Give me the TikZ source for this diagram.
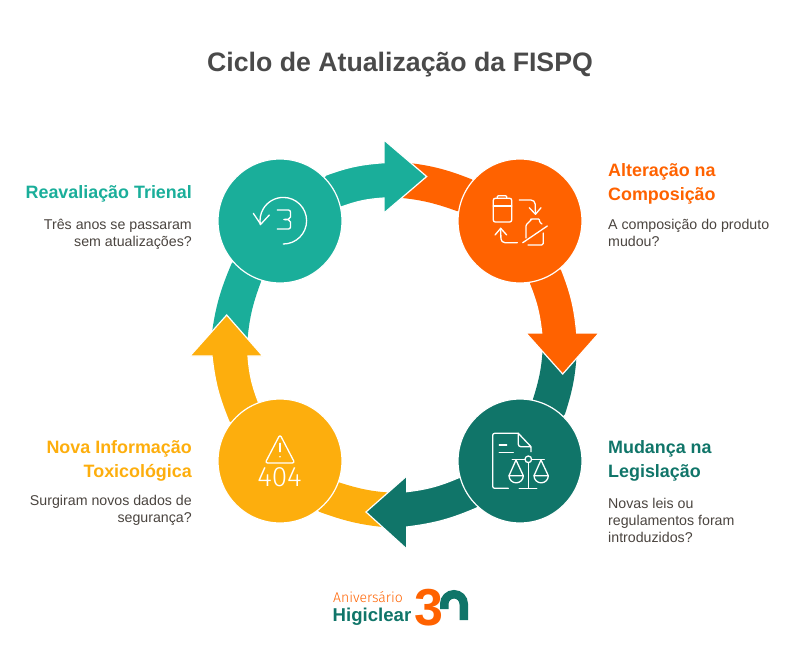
\documentclass[tikz,border=0pt]{standalone}
\usepackage{fontspec}
\setmainfont{Liberation Sans}
\newfontfamily\lightfont{Fira Sans Light}
\usepackage{xcolor}
\usetikzlibrary{positioning,arrows.meta}
\definecolor{tealc}{HTML}{1AAE9A}
\definecolor{orangec}{HTML}{FF6200}
\definecolor{darkc}{HTML}{107569}
\definecolor{yellowc}{HTML}{FDAE0D}
\definecolor{titlec}{HTML}{4A4A4A}
\definecolor{bodyc}{HTML}{4A443F}

\begin{document}
\begin{tikzpicture}[x=1pt,y=-1pt]
  \tikzstyle{stage}=[circle,draw=white,line width=1.2pt,minimum size=124pt,inner sep=0pt]
  \tikzstyle{band}=[draw=white,line width=1.2pt,line join=miter]
  \tikzstyle{icon}=[draw=white,line width=1.3pt,line cap=round,line join=round]
  \tikzstyle{head}=[font=\fontsize{17.9}{24}\selectfont\bfseries,inner sep=0pt]
  \tikzstyle{body}=[font=\fontsize{14.2}{17}\selectfont,text=bodyc,inner sep=0pt]

  \useasboundingbox (0,0) rectangle (800,654);

  \coordinate (ct) at (280,221);
  \coordinate (co) at (520,221);
  \coordinate (cd) at (520,461);
  \coordinate (cy) at (280,461);

  % tails
  \fill[tealc] (ct) -- (231.7,263.3) to[bend right=8] (211,340) -- (247,345) to[bend left=8] (261,281.7) -- cycle;
  \fill[orangec] (co) -- (471.7,179.3) to[bend right=8] (400,162) -- (390,197) to[bend left=8] (456.7,211) -- cycle;
  \fill[darkc] (cd) -- (565,414) to[bend right=8] (577,345) -- (543,340) to[bend left=8] (533,399) -- cycle;
  \fill[yellowc] (cy) -- (340,482.7) to[bend right=8] (400,493) -- (395,528) to[bend left=8] (319,511.7) -- cycle;

  % arrows
  \path[band,fill=tealc] (ct) -- (326,175) to[bend left=8] (384,162.7) -- (384,140) -- (426.7,176.5) -- (384,213) -- (384,198) to[bend right=8] (342,206.7) -- cycle;
  \path[band,fill=orangec] (co) -- (561.7,270) to[bend left=8] (576.7,333) -- (599,333) -- (562.7,374) -- (526,333) -- (541.7,333) to[bend right=8] (529,283) -- cycle;
  \path[band,fill=darkc] (cd) -- (476.7,508) to[bend left=8] (406.7,527) -- (406.7,549) -- (366,512) -- (406.7,476) -- (406.7,491.7) to[bend right=8] (458,478) -- cycle;
  \path[band,fill=yellowc] (cy) -- (229,421.7) to[bend left=8] (212,356) -- (190,356) -- (226.7,315) -- (262.7,356) -- (248,356) to[bend right=8] (258,401) -- cycle;

  % circles
  \node[stage,fill=tealc] (reav) at (ct) {};
  \node[stage,fill=orangec] (alter) at (co) {};
  \node[stage,fill=darkc] (mud) at (cd) {};
  \node[stage,fill=yellowc] (nova) at (cy) {};

  % icon 3 years
  \draw[icon] (283.3,244) arc[start angle=90,end angle=-190,radius=23.3];
  \draw[icon] (253.3,213.3) -- (260.7,224.3) -- (269.3,215);
  \draw[icon,rounded corners=2pt] (277.3,210) -- (290.5,210) -- (290.5,219) -- (284,219.5);
  \draw[icon,rounded corners=2pt] (284,219.5) -- (290.5,220) -- (290.5,229) -- (277.3,229);

  % icon composition
  \draw[icon,rounded corners=2pt] (493.3,198.3) rectangle (511.7,222);
  \draw[icon] (493.3,206) -- (511.7,206);
  \draw[icon,rounded corners=1pt] (497.3,198.3) -- (497.3,195.7) -- (506.7,195.7) -- (506.7,198.3);
  \draw[icon,rounded corners=4pt] (519.3,200) -- (535,200) -- (535.5,214);
  \draw[icon] (529.3,207.7) -- (535.5,214.3) -- (541,207.7);
  \draw[icon,rounded corners=4pt] (517.3,242.7) -- (501,242.7) -- (500.7,228.3);
  \draw[icon] (495,235) -- (500.7,228.3) -- (506.7,235);
  \draw[icon] (522.7,242.7) -- (547.3,226);
  \draw[icon,rounded corners=1pt] (526,238) -- (526,225) -- (531,220) -- (531,219) -- (539.5,219) -- (539.5,222) -- (542,224);
  \draw[icon,rounded corners=1.5pt] (543.3,233) -- (543.3,245) -- (528,245);

  % icon document and scale
  \draw[icon,rounded corners=2pt] (508.3,488.3) -- (492.7,488.3) -- (492.7,433.3) -- (518.3,433.3);
  \draw[icon,rounded corners=1pt] (518.3,433.3) -- (531,446.7) -- (531,451.7);
  \draw[icon,rounded corners=2.5pt] (518.3,433.3) -- (518.3,446.7) -- (531,446.7);
  \draw[icon] (499.3,445) -- (506.7,445) (499.3,452.3) -- (513.3,452.3);
  \draw[icon] (512.3,459.3) -- (525,459.3) (531.6,459.3) -- (544.3,459.3);
  \draw[icon] (528.3,459.3) circle[radius=3.3];
  \draw[icon] (528.3,462.6) -- (528.3,488.3) (519.3,488.3) -- (536.7,488.3);
  \draw[icon] (509,475.7) -- (516,460) -- (523.3,475.7) -- cycle;
  \draw[icon] (509,475.7) arc[start angle=180,end angle=0,radius=7.15];
  \draw[icon] (534,475.7) -- (541,460) -- (548.3,475.7) -- cycle;
  \draw[icon] (534,475.7) arc[start angle=180,end angle=0,radius=7.15];

  % icon warning
  \draw[icon,rounded corners=2.5pt] (280,434.5) -- (294.8,463) -- (265.2,463) -- cycle;
  \draw[icon] (280,443.3) -- (280,451.7);
  \fill[white] (280,456.7) circle[radius=0.9];
  \node[text=white,font=\fontsize{28}{28}\lightfont,inner sep=0pt] (err) at (279.5,477) {404};

  % title
  \node[font=\fontsize{26.7}{30}\selectfont\bfseries,text=titlec,inner sep=0pt] (title) at (400,65) {Ciclo de Atualização da FISPQ};

  % labels
  \node[head,text=tealc,anchor=east] (reavh) at (192,194) {Reavaliação Trienal};
  \node[body,align=right,anchor=north east] (reavb) at (192,219) {Três anos se passaram\\sem atualizações?};
  \node[head,text=orangec,align=left,anchor=north west] (alterh) at (608,163) {Alteração na\\Composição};
  \node[body,align=left,anchor=north west] (alterb) at (608,219) {A composição do produto\\mudou?};
  \node[head,text=darkc,align=left,anchor=north west] (mudh) at (608,440) {Mudança na\\Legislação};
  \node[body,align=left,anchor=north west] (mudb) at (608,498) {Novas leis ou\\regulamentos foram\\introduzidos?};
  \node[head,text=yellowc,align=right,anchor=north east] (novah) at (192,440) {Nova Informação\\Toxicológica};
  \node[body,align=right,anchor=north east] (novab) at (192,495) {Surgiram novos dados de\\segurança?};

  % logo
  \node[font=\fontsize{14}{14}\lightfont,text=orangec,anchor=base west,inner sep=0pt] (aniv) at (333,602) {Aniversário};
  \node[font=\fontsize{18.6}{19}\selectfont\bfseries,text=darkc,anchor=base west,inner sep=0pt] (higi) at (332.5,621) {Higiclear};
  \node[font=\fontsize{52}{52}\selectfont\bfseries,text=orangec,anchor=base,inner sep=0pt] (tres) at (428.5,625) {3};
  \draw[darkc,line width=8.5pt] (444.25,609) -- (444.25,604) arc[start angle=180,end angle=360,radius=9.75] -- (463.75,620);
\end{tikzpicture}
\end{document}
